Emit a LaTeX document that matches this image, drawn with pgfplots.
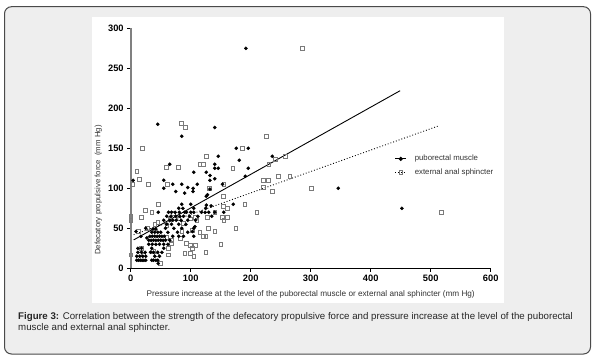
\documentclass[border=0pt]{standalone}
\usepackage{pgfplots}
\pgfplotsset{compat=1.18}
\usepackage{pgfplotstable}
\usepackage{fontspec}
\setmainfont{Liberation Sans}
\definecolor{framebg}{HTML}{EEEEEE}
\definecolor{framedraw}{HTML}{4A4A4A}
\definecolor{opengray}{HTML}{7A7A7A}
\definecolor{labelgray}{HTML}{333333}

\pgfplotstableread{
x y
192 275
45 180
85 165
140 176
176 150
196 150
146 140
236 140
181 135
65 130
140 130
140 125
146 125
196 125
105 120
126 120
132 116
140 112
132 110
191 115
111 105
104 100
104 96
132 99
153 105
346 100
452 75
171 80
126 79
126 90
4 110
55 110
55 100
70 105
75 96
85 105
95 101
90 94
128 92
134 78
85 80
100 80
105 75
105 70
118 70
124 70
125 75
135 65
155 70
105 50
105 40
107 52
103 46
9 46
17 40
27 38
37 49
42 49
46 6
10 10
13 10
16 10
19 10
22 10
25 10
35 10
38 10
42 10
45 10
10 15
15 15
20 15
25 15
40 15
48 15
12 20
18 20
24 20
33 20
38 20
45 20
52 20
12 25
18 25
35 25
55 25
30 30
36 30
42 30
48 30
55 30
62 30
30 35
34 35
38 35
42 35
46 35
50 35
54 35
58 35
65 35
32 40
36 40
40 40
44 40
48 40
52 40
56 40
70 40
80 40
88 40
35 45
40 45
45 45
50 45
62 45
78 45
95 45
25 50
58 50
72 50
85 50
60 55
68 55
80 55
92 55
55 60
65 60
70 60
76 60
84 60
95 60
108 60
60 65
67 65
75 65
82 65
88 65
98 65
112 65
46 70
63 70
68 70
74 70
81 70
90 70
93 70
100 70
130 70
140 70
80 75
87 75
}\pub

\pgfplotstableread{
x y
286 275
84 181
91 176
19 150
186 150
226 165
10 121
59 126
79 126
115 130
121 130
126 140
170 125
230 130
241 136
257 140
246 115
265 115
14 111
29 105
61 105
2 105
221 110
229 110
221 101
236 96
301 100
517 70
131 100
155 105
154 90
154 78
161 75
190 80
140 70
127 64
152 64
161 64
155 60
107 64
110 60
210 70
129 50
140 46
175 50
121 40
125 40
150 30
102 25
125 20
105 15
0 65
0 60
0 17
18 64
35 70
24 73
46 80
65 61
79 62
88 56
99 62
71 69
60 54
27 50
13 46
85 46
102 48
18 25
21 17
43 17
49 6
63 25
63 17
90 19
99 19
68 31
82 38
93 31
60 39
68 35
99 29
107 29
38 21
115 45
45 58
40 55
}\eas

\begin{document}
\begin{tikzpicture}[x=1pt,y=1pt]
\path[use as bounding box] (0,0) rectangle (599,359);
\draw[framedraw, fill=framebg, line width=1pt, rounded corners=7pt] (4.5,5) rectangle (590.5,352.3);
\fill[white] (92,56) rectangle (504,342);
\begin{axis}[
  at={(130.7pt,90.7pt)}, anchor=south west,
  scale only axis, width=360pt, height=240pt,
  xmin=0, xmax=600, ymin=0, ymax=300,
  clip=false,
  axis lines*=left,
  axis line style={-},
  x axis line style={black, line width=1.2pt},
  y axis line style={gray, line width=2pt},
  tick align=outside,
  major tick length=3.5pt,
  tick style={black, line width=0.9pt},
  xtick={0,100,...,600},
  ytick={0,50,...,300},
  /pgf/number format/assume math mode=true,
  ticklabel style={font=\fontsize{9.3}{10}\selectfont\bfseries},
  xlabel={Pressure increase at the level of the puborectal muscle or external anal sphincter (mm Hg)},
  ylabel={Defecatory propulsive force\ \ (mm Hg)},
  xlabel style={at={(axis description cs:0.5,-0.107)}, anchor=center, font=\fontsize{8.2}{9}\selectfont, text=labelgray},
  ylabel style={at={(axis description cs:-0.09,0.326)}, anchor=center, font=\fontsize{7.8}{9}\selectfont, text=labelgray},
  legend style={at={(axis cs:440,144)}, anchor=north west, draw=none, fill=none,
    font=\fontsize{7.8}{9}\selectfont, text=labelgray, row sep=2.5pt, inner sep=0pt},
  legend cell align=left,
  legend image code/.code={\draw[mark repeat=2,mark phase=2,#1] plot coordinates {(0pt,0pt) (5.5pt,0pt) (11pt,0pt)}; \path (17pt,0pt);},
]
\addplot[only marks, mark=square, mark size=1.9pt, mark options={opengray, line width=0.55pt}, forget plot] table {\eas};
\addplot[only marks, mark=*, mark size=1.6pt, black, forget plot] table {\pub};
\addplot[black, line width=0.9pt, forget plot] coordinates {(5,35.5) (449,222)};
\addplot[black, dotted, line width=0.9pt, forget plot] coordinates {(5,42) (513,178)};
\addlegendimage{black, line width=0.9pt, mark=*, mark size=1.6pt}
\addlegendentry{puborectal muscle}
\addlegendimage{black, dotted, line width=0.8pt, mark=square, mark size=1.9pt, mark options={solid, opengray}}
\addlegendentry{external anal sphincter}
\end{axis}
\node[anchor=north west, align=left, inner sep=0pt, font=\fontsize{9.7}{11}\selectfont, text=black!85] at (18,46.5)
  {\textbf{Figure 3:} Correlation between the strength of the defecatory propulsive force and pressure increase at the level of the puborectal\\muscle and external anal sphincter.};
\end{tikzpicture}
\end{document}
